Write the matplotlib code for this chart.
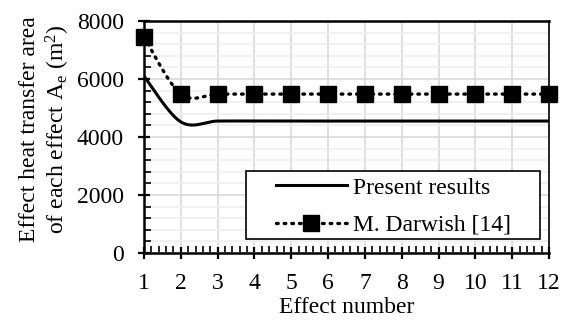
import numpy as np
import matplotlib
matplotlib.use("Agg")
import matplotlib.pyplot as plt
from matplotlib.ticker import MultipleLocator
from matplotlib.patches import Rectangle

plt.rcParams['font.family'] = ['Liberation Serif', 'DejaVu Serif']
plt.rcParams['mathtext.fontset'] = 'custom'
plt.rcParams['mathtext.rm'] = 'Liberation Serif'
plt.rcParams['mathtext.it'] = 'Liberation Serif:italic'

effects = [1, 2, 3, 4, 5, 6, 7, 8, 9, 10, 11, 12]
present = [6100, 4520, 4550, 4550, 4550, 4550, 4550, 4550, 4550, 4550, 4550, 4550]
darwish = [7450, 5480, 5480, 5480, 5480, 5480, 5480, 5480, 5480, 5480, 5480, 5480]

FS = 17
DOTS = (0, (0.5, 1.8))


def smooth(x, y, n=30):
    # excel-like smoothed line (catmull-rom as cubic bezier)
    x = np.asarray(x, float)
    y = np.asarray(y, float)
    px = np.concatenate([[x[0]], x, [x[-1]]])
    py = np.concatenate([[y[0]], y, [y[-1]]])
    xs, ys = [], []
    t = np.linspace(0, 1, n)
    for i in range(1, len(px) - 2):
        p0 = np.array([px[i], py[i]])
        p3 = np.array([px[i + 1], py[i + 1]])
        c1 = p0 + (np.array([px[i + 1], py[i + 1]]) - np.array([px[i - 1], py[i - 1]])) / 6
        c2 = p3 - (np.array([px[i + 2], py[i + 2]]) - np.array([px[i], py[i]])) / 6
        b = ((1 - t) ** 3)[:, None] * p0 + (3 * (1 - t) ** 2 * t)[:, None] * c1 \
            + (3 * (1 - t) * t ** 2)[:, None] * c2 + (t ** 3)[:, None] * p3
        xs.append(b[:, 0])
        ys.append(b[:, 1])
    return np.concatenate(xs), np.concatenate(ys)


fig = plt.figure(figsize=(5.74, 3.2), dpi=100)
ax = fig.add_axes([144 / 574, 67 / 320, 405 / 574, 232 / 320])

sx, sy = smooth(effects, present)
ax.plot(sx, sy, color='black', lw=2.2, label='Present results', zorder=3)
dx, dy = smooth(effects, darwish)
ax.plot(dx, dy, color='black', lw=2.4, ls=DOTS, dash_capstyle='round', zorder=3)
ax.plot(effects, darwish, ls='none', marker='s', ms=11, color='black', zorder=4, clip_on=False)
ax.plot([], [], color='black', lw=2.4, ls=DOTS, dash_capstyle='round',
        marker='s', ms=11, label='M. Darwish [14]')

ax.set_xlim(1, 12)
ax.set_ylim(0, 8000)
ax.xaxis.set_major_locator(MultipleLocator(1))
ax.xaxis.set_minor_locator(MultipleLocator(0.2))
ax.yaxis.set_major_locator(MultipleLocator(2000))
ax.yaxis.set_minor_locator(MultipleLocator(400))

ax.grid(True, which='major', axis='x', color='#d9d9d9', lw=1.2, zorder=0)
ax.grid(True, which='major', axis='y', color='#d9d9d9', lw=1.2, zorder=0)
ax.grid(True, which='minor', axis='y', color='#efefef', lw=1.2, zorder=0)
ax.set_axisbelow(True)

for s in ['left', 'bottom', 'top']:
    ax.spines[s].set_linewidth(1.8)
ax.spines['right'].set_linewidth(1.2)
ax.tick_params(which='major', direction='inout', length=9, width=1.6, labelsize=FS)
ax.tick_params(axis='x', which='major', pad=10)
ax.tick_params(axis='y', which='major', pad=10)
ax.tick_params(which='minor', direction='in', length=5, width=1.2)

ax.set_xlabel('Effect number', fontsize=FS, labelpad=2)
ax.set_ylabel('Effect heat transfer area\nof each effect A$_\\mathregular{e}$ (m$^\\mathregular{2}$)',
              fontsize=FS, linespacing=1.2)
ax.yaxis.set_label_coords(-0.178, 0.534)

# legend frame drawn separately (excel style box with wide padding)
ax.add_patch(Rectangle((0.252, 0.060), 0.726, 0.293, transform=ax.transAxes,
                       facecolor='white', edgecolor='black', lw=1.2, zorder=5))
leg = ax.legend(loc='upper left', bbox_to_anchor=(0.326, 0.327), fontsize=FS, frameon=False,
                handlelength=3.0, borderpad=0, labelspacing=0.66, handletextpad=0.25,
                borderaxespad=0)
leg.set_zorder(6)

fig.savefig('out.png', dpi=100)
